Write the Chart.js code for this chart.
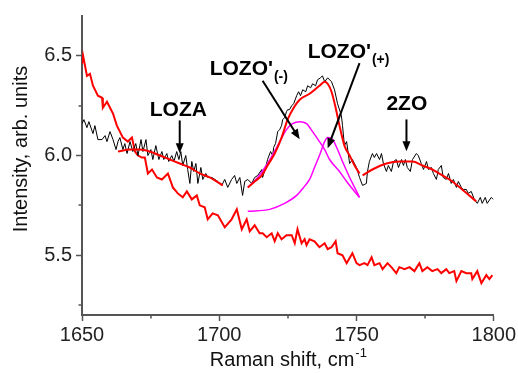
<!DOCTYPE html>
<html>
<head>
<meta charset="utf-8">
<script src="https://cdn.jsdelivr.net/npm/chart.js@4.4.1/dist/chart.umd.min.js"></script>
<style>
body{margin:0;background:#fff}
#chart{display:block}
</style>
</head>
<body>
<canvas id="chart" width="518" height="373"></canvas>
<script>

// ==============================
// Raman spectrum, 1650-1800 cm-1
// ==============================

// tick labels
const xTicks = [1650,1700,1750,1800]
const yTicks = [5.5,6.0,6.5]
const xMinor = [1675,1725,1775]
const yMinor = [5.25,5.75,6.25]

// measured spectrum (black)
const blackX = [1650.0,1650.7,1651.8,1652.5,1654.0,1654.7,1655.8,1657.3,1658.4,1659.1,1660.2,1661.3,1662.4,1663.1,1663.8,1664.9,1665.6,1666.4,1667.5,1668.5,1669.6,1670.4,1671.5,1672.2,1673.3,1674.0,1675.1,1675.8,1676.9,1678.0,1679.1,1679.8,1680.9,1681.6,1682.7,1683.5,1684.5,1685.3,1686.0,1686.7,1687.8,1688.5,1689.3,1690.0,1690.7,1691.5,1692.2,1693.3,1694.0,1695.1,1695.8,1697.3,1698.4,1699.5,1700.9,1702.0,1703.1,1704.5,1705.6,1706.4,1707.5,1708.5,1709.3,1710.4,1711.8,1712.9,1714.0,1715.5,1715.8,1716.9,1717.6,1718.7,1719.5,1719.8,1720.5,1721.3,1722.0,1722.7,1723.1,1723.8,1724.5,1724.9,1725.6,1726.4,1727.1,1728.2,1728.9,1729.6,1730.4,1731.5,1732.2,1733.3,1734.0,1735.1,1735.8,1736.9,1737.6,1738.4,1739.5,1740.9,1742.0,1743.1,1744.5,1744.9,1745.6,1746.4,1747.5,1748.5,1750.0,1751.1,1752.2,1753.6,1754.0,1754.7,1755.8,1756.5,1757.3,1758.4,1759.1,1759.8,1760.9,1761.6,1762.7,1763.5,1764.5,1765.3,1766.4,1767.1,1767.8,1768.5,1769.6,1770.4,1771.8,1772.5,1773.6,1774.4,1775.5,1776.2,1777.3,1778.0,1779.1,1779.8,1780.9,1781.6,1782.7,1783.5,1784.5,1785.3,1786.4,1787.1,1788.2,1788.9,1790.0,1790.7,1791.8,1792.9,1794.0,1795.1,1795.8,1796.9,1797.6,1799.1,1799.8]
const blackY = [6.16,6.18,6.14,6.17,6.11,6.15,6.08,6.08,6.10,6.07,6.12,6.08,6.03,6.07,6.09,6.03,6.06,6.01,6.07,6.02,6.06,6.00,6.08,6.02,6.08,6.00,6.03,5.98,6.05,5.98,6.02,5.98,6.01,5.97,6.00,5.97,6.02,5.98,6.02,5.95,6.00,5.93,5.86,5.97,5.92,5.96,5.86,5.94,5.88,5.91,5.89,5.89,5.88,5.87,5.85,5.88,5.84,5.88,5.90,5.86,5.89,5.80,5.87,5.88,5.86,5.89,5.90,5.93,5.89,5.94,5.98,6.02,6.00,6.04,6.06,6.12,6.13,6.15,6.18,6.19,6.22,6.23,6.23,6.25,6.26,6.30,6.32,6.30,6.33,6.32,6.35,6.34,6.36,6.35,6.38,6.39,6.40,6.37,6.39,6.37,6.33,6.26,6.20,6.15,6.05,6.07,5.96,5.98,5.94,5.89,5.85,5.86,5.92,5.97,6.01,5.99,6.01,5.98,6.01,5.96,5.92,5.95,5.92,5.97,5.98,5.94,5.98,5.95,5.98,5.94,5.92,5.98,6.01,6.00,5.96,5.93,5.97,5.93,5.94,5.91,5.88,5.93,5.95,5.89,5.88,5.91,5.86,5.88,5.84,5.87,5.84,5.83,5.83,5.81,5.82,5.78,5.76,5.79,5.76,5.79,5.76,5.79,5.78]

// second spectrum (red, lower)
const lowX = [1650.0,1650.4,1651.8,1652.9,1654.0,1655.8,1657.3,1657.6,1659.1,1660.2,1661.3,1662.7,1663.8,1664.9,1666.7,1668.2,1669.3,1670.4,1671.8,1672.9,1674.0,1675.5,1677.3,1679.1,1681.3,1683.1,1684.9,1686.7,1688.2,1690.0,1691.8,1692.9,1694.7,1695.8,1697.6,1699.5,1702.0,1704.5,1706.4,1708.2,1710.0,1711.1,1712.9,1714.7,1715.8,1717.3,1719.1,1720.2,1721.3,1722.7,1724.5,1726.4,1727.5,1728.5,1730.0,1731.1,1731.8,1732.9,1734.7,1736.5,1738.4,1739.5,1740.9,1742.4,1743.1,1744.9,1746.4,1748.5,1750.0,1751.1,1752.9,1754.0,1755.5,1756.5,1758.4,1759.5,1761.3,1762.7,1764.5,1765.6,1767.5,1769.3,1771.1,1772.9,1774.0,1775.8,1777.6,1779.5,1780.9,1782.7,1783.8,1785.6,1786.4,1788.2,1790.0,1791.8,1792.2,1794.0,1795.5,1797.3,1798.4,1799.5]
const lowY = [6.46,6.50,6.40,6.41,6.35,6.30,6.29,6.24,6.27,6.24,6.21,6.15,6.12,6.09,6.07,6.09,6.02,6.00,5.99,5.99,5.91,5.93,5.89,5.88,5.91,5.84,5.81,5.79,5.82,5.78,5.80,5.75,5.74,5.68,5.71,5.70,5.64,5.68,5.73,5.63,5.68,5.62,5.65,5.61,5.61,5.59,5.61,5.57,5.61,5.58,5.60,5.60,5.56,5.63,5.56,5.58,5.55,5.58,5.57,5.54,5.56,5.53,5.54,5.57,5.51,5.50,5.46,5.51,5.46,5.45,5.46,5.45,5.49,5.45,5.46,5.43,5.46,5.44,5.41,5.44,5.43,5.44,5.42,5.46,5.42,5.44,5.42,5.43,5.41,5.43,5.41,5.42,5.37,5.42,5.41,5.41,5.38,5.42,5.36,5.40,5.38,5.40]

// fitted curves (red)
const lozaX = [1663.1,1667.5,1671.1,1674.7,1678.4,1682.0,1685.6,1689.3,1692.9,1696.5,1701.3]
const lozaY = [6.02,6.03,6.03,6.02,6.00,5.98,5.96,5.94,5.91,5.89,5.85]
const peakX = [1710.4,1712.9,1715.5,1717.6,1720.2,1722.7,1724.9,1726.7,1729.3,1732.9,1736.5,1738.4,1739.5,1740.9,1742.4,1743.8,1745.6,1747.5,1749.3,1751.1]
const peakY = [5.84,5.87,5.90,5.95,6.01,6.09,6.18,6.23,6.28,6.31,6.35,6.37,6.36,6.32,6.24,6.15,6.05,6.00,5.95,5.91]
const zoX = [1752.2,1755.8,1760.9,1765.6,1770.4,1774.0,1777.6,1781.3,1784.9,1788.5,1793.6]
const zoY = [5.90,5.93,5.96,5.97,5.97,5.95,5.93,5.90,5.87,5.83,5.77]

// Lorentz components (magenta)
const minusX = [1710.4,1714.0,1717.6,1721.3,1724.5,1726.7,1729.3,1731.8,1734.0,1736.5,1738.4,1740.2,1743.8,1746.4,1749.3,1751.1]
const minusY = [5.84,5.89,5.96,6.05,6.13,6.16,6.17,6.16,6.12,6.07,6.03,5.98,5.92,5.87,5.82,5.79]
const plusX = [1710.4,1718.4,1723.8,1728.2,1730.7,1732.9,1734.7,1736.5,1738.4,1739.5,1741.3,1743.1,1744.9,1747.5,1749.3,1751.1]
const plusY = [5.72,5.73,5.76,5.80,5.84,5.88,5.94,6.00,6.07,6.09,6.08,6.03,5.97,5.89,5.84,5.79]

// peak labels: text anchor + arrow tail/tip in data units
const labels = [
{text:"LOZA",sub:"",x:1685.1,y:6.20,center:true,ax:[1685.6,6.176],tip:[1685.6,6.012]},
{text:"LOZO'",sub:"(-)",x:1696.5,y:6.404,center:false,ax:[1715.8,6.375],tip:[1729.3,6.082]},
{text:"LOZO'",sub:"(+)",x:1732.2,y:6.489,center:false,ax:[1751.1,6.464],tip:[1739.5,6.037]},
{text:"2ZO",sub:"",x:1760.9,y:6.226,center:false,ax:[1768.2,6.181],tip:[1768.2,6.022]}
]


function pairs(xs,ys){

return xs.map((x,i)=>({x:x,y:ys[i]}))

}


const FONT = 'Arial, "Liberation Sans", sans-serif'


// Arrows, labels, minor ticks, axis titles

const annotate = {

id:"annotate",

afterDraw(chart){

const ctx = chart.ctx
const xs = chart.scales.x
const ys = chart.scales.y
const area = chart.chartArea

ctx.save()

// minor ticks
ctx.strokeStyle = "#555"
ctx.lineWidth = 1.5
ctx.beginPath()
xMinor.forEach(v=>{
const px = Math.round(xs.getPixelForValue(v))
ctx.moveTo(px,area.bottom)
ctx.lineTo(px,area.bottom+3.5)
})
yMinor.forEach(v=>{
const py = Math.round(ys.getPixelForValue(v))
ctx.moveTo(area.left,py)
ctx.lineTo(area.left-3.5,py)
})
ctx.stroke()

// labels
ctx.fillStyle = "#000"
ctx.textBaseline = "alphabetic"
labels.forEach(l=>{

const px = xs.getPixelForValue(l.x)
const py = ys.getPixelForValue(l.y)

ctx.font = "bold 21px " + FONT
const w = ctx.measureText(l.text).width
const left = l.center ? px - w/2 : px
ctx.textAlign = "left"
ctx.fillText(l.text,left,py)

if(l.sub){
ctx.font = "bold 14px " + FONT
ctx.fillText(l.sub,left+w+1,py+6)
}

// arrow
const x0 = xs.getPixelForValue(l.ax[0])
const y0 = ys.getPixelForValue(l.ax[1])
const x1 = xs.getPixelForValue(l.tip[0])
const y1 = ys.getPixelForValue(l.tip[1])
const ang = Math.atan2(y1-y0,x1-x0)
const hl = 10, hw = 4

ctx.strokeStyle = "#000"
ctx.lineWidth = 2
ctx.beginPath()
ctx.moveTo(x0,y0)
ctx.lineTo(x1-Math.cos(ang)*hl*0.8,y1-Math.sin(ang)*hl*0.8)
ctx.stroke()

ctx.beginPath()
ctx.moveTo(x1,y1)
ctx.lineTo(x1-Math.cos(ang)*hl-Math.sin(ang)*hw,y1-Math.sin(ang)*hl+Math.cos(ang)*hw)
ctx.lineTo(x1-Math.cos(ang)*hl+Math.sin(ang)*hw,y1-Math.sin(ang)*hl-Math.cos(ang)*hw)
ctx.closePath()
ctx.fill()

})

// axis titles
ctx.fillStyle = "#111"
ctx.font = "20px " + FONT
ctx.textAlign = "left"
ctx.textBaseline = "alphabetic"
const main = "Raman shift, cm"
ctx.font = "20px " + FONT
const mw = ctx.measureText(main).width
ctx.font = "13px " + FONT
const sw = ctx.measureText("-1").width
const tx = (area.left+area.right)/2 - (mw+sw)/2
ctx.font = "20px " + FONT
ctx.fillText(main,tx,366)
ctx.font = "13px " + FONT
ctx.fillText("-1",tx+mw+1,357)

ctx.font = "20px " + FONT
ctx.translate(21,149)
ctx.rotate(-Math.PI/2)
ctx.textAlign = "center"
ctx.textBaseline = "middle"
ctx.fillText("Intensity, arb. units",0,0)

ctx.restore()

}

}


// Load Chart

function loadChart(){

const line = (data,color,width,order,smooth)=>({
data:data,
borderColor:color,
borderWidth:width,
pointRadius:0,
fill:false,
order:order,
cubicInterpolationMode:smooth ? "monotone" : "default",
tension:smooth ? 0.4 : 0
})

new Chart(document.getElementById("chart"),{

type:"line",

data:{
datasets:[
line(pairs(lozaX,lozaY),"#ff0000",2,0,true),
line(pairs(peakX,peakY),"#ff0000",2,0,true),
line(pairs(zoX,zoY),"#ff0000",2,0,true),
line(pairs(minusX,minusY),"#ff00ff",1.5,1,true),
line(pairs(plusX,plusY),"#ff00ff",1.5,1,true),
line(pairs(blackX,blackY),"#000000",1,2,false),
line(pairs(lowX,lowY),"#ff0000",2,3,false)
]
},

options:{
responsive:false,
animation:false,
devicePixelRatio:1,
layout:{padding:{left:0,top:12,right:23,bottom:0}},
plugins:{
legend:{display:false},
tooltip:{enabled:false}
},
scales:{
x:{
type:"linear",
min:1650,
max:1800,
afterBuildTicks:s=>{s.ticks = xTicks.map(v=>({value:v}))},
afterFit:s=>{s.height = 58},
grid:{drawOnChartArea:false,tickLength:6,tickColor:"#555",tickWidth:1.5},
border:{color:"#555",width:2},
ticks:{
color:"#222",
padding:2,
maxRotation:0,
font:{family:FONT,size:20},
callback:v=>String(v)
}
},
y:{
type:"linear",
min:5.2,
max:6.7,
afterBuildTicks:s=>{s.ticks = yTicks.map(v=>({value:v}))},
afterFit:s=>{s.width = 82},
grid:{drawOnChartArea:false,tickLength:6,tickColor:"#555",tickWidth:1.5},
border:{color:"#555",width:2},
ticks:{
color:"#222",
padding:4,
font:{family:FONT,size:20},
callback:v=>Number(v).toFixed(1)
}
}
}
},

plugins:[annotate]

})

}


// Init

loadChart()

</script>
</body>
</html>
